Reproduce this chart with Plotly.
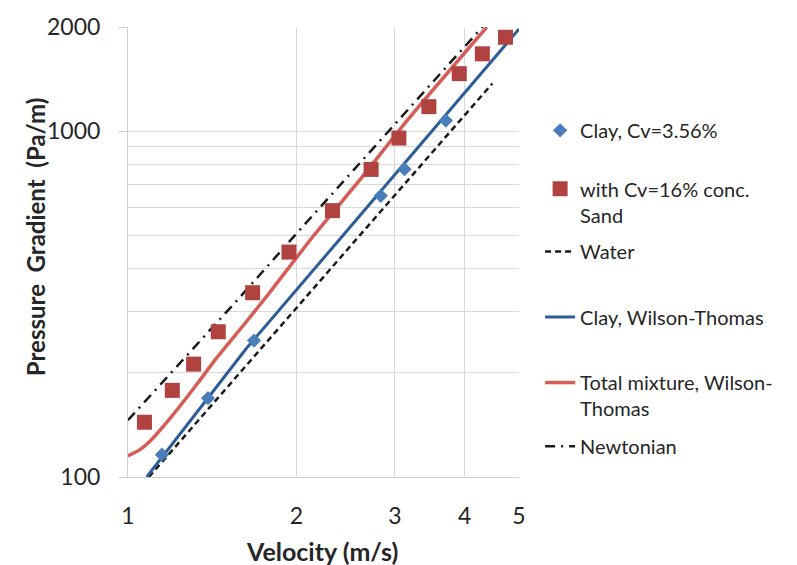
import plotly.graph_objects as go

# Measured data: clay slurry and clay + sand mixture
velocity_clay = [1.15, 1.39, 1.68, 2.83, 3.12, 3.70]
gradient_clay = [116, 169, 248, 650, 776, 1073]

velocity_sand = [1.07, 1.20, 1.31, 1.45, 1.67, 1.94, 2.32, 2.72, 3.05, 3.45, 3.91, 4.30, 4.73]
gradient_sand = [144, 178, 212, 263, 341, 447, 589, 775, 955, 1177, 1466, 1673, 1868]

# Model curves
velocity_water = [1.09, 1.46, 1.73, 2.63, 3.72, 4.48]
gradient_water = [100, 172, 236, 510, 976, 1373]

velocity_clay_wt = [1.08, 1.23, 1.40, 1.63, 2.45, 3.41, 5.00]
gradient_clay_wt = [100, 131, 172, 236, 510, 955, 1973]

velocity_total_wt = [1.00, 1.05, 1.10, 1.19, 1.33, 1.44, 1.63, 1.79, 2.15, 2.59, 3.18, 4.38]
gradient_total_wt = [115, 120, 128, 148, 186, 221, 282, 341, 500, 719, 1090, 2000]

velocity_newtonian = [1.00, 1.58, 2.01, 3.00, 4.30]
gradient_newtonian = [146, 329, 510, 1047, 2000]

x_ticks = [1, 2, 3, 4, 5]
y_ticks = [100, 1000, 2000]
y_minor = [200, 300, 400, 500, 600, 700, 800, 900]

FONT = "Lato, 'Open Sans', sans-serif"
TEXT = "#262626"

fig = go.Figure()

fig.add_trace(go.Scatter(
    x=velocity_water, y=gradient_water, mode="lines", name="Water",
    line=dict(color="#1a1a1a", width=2.5, dash="6px,4px"), legend="legend3"))
fig.add_trace(go.Scatter(
    x=velocity_clay_wt, y=gradient_clay_wt, mode="lines", name="Clay, Wilson-Thomas",
    line=dict(color="#2c5d98", width=3), legend="legend4"))
fig.add_trace(go.Scatter(
    x=velocity_total_wt, y=gradient_total_wt, mode="lines",
    name="Total mixture, Wilson-<br>Thomas",
    line=dict(color="#d65c57", width=3.5, shape="spline", smoothing=0.6), legend="legend5"))
fig.add_trace(go.Scatter(
    x=velocity_newtonian, y=gradient_newtonian, mode="lines", name="Newtonian",
    line=dict(color="#1a1a1a", width=2.5, dash="10px,6px,2px,6px"), legend="legend6"))
fig.add_trace(go.Scatter(
    x=velocity_clay, y=gradient_clay, mode="markers", name="Clay, Cv=3.56%",
    marker=dict(symbol="diamond", size=11, color="#4a7ebb"), legend="legend"))
fig.add_trace(go.Scatter(
    x=velocity_sand, y=gradient_sand, mode="markers", name="with Cv=16% conc.<br>Sand",
    marker=dict(symbol="square", size=15, color="#b0423f"), legend="legend2"))

legend_x = 1.054
legend_common = dict(
    x=legend_x, xanchor="left", yanchor="middle", valign="top",
    font=dict(family=FONT, size=20, color=TEXT), bgcolor="rgba(0,0,0,0)",
    borderwidth=0, itemwidth=30,
)

fig.update_layout(
    width=797, height=565,
    margin=dict(l=128, r=278, t=24, b=88),
    paper_bgcolor="white", plot_bgcolor="white",
    font=dict(family=FONT, color=TEXT),
    showlegend=True,
    legend=dict(y=0.7704, **legend_common),
    legend2=dict(y=0.6115, **legend_common),
    legend3=dict(y=0.5011, **legend_common),
    legend4=dict(y=0.3554, **legend_common),
    legend5=dict(y=0.181, **legend_common),
    legend6=dict(y=0.0684, **legend_common),
    xaxis=dict(
        type="log", range=[0, 0.69897], tickvals=x_ticks, ticktext=[str(v) for v in x_ticks],
        showgrid=True, gridcolor="#d9d9d9", gridwidth=1,
        showline=True, linecolor="#cfcfcf", linewidth=1,
        ticks="", ticklabelstandoff=18, zeroline=False,
        tickfont=dict(family=FONT, size=23, color=TEXT),
    ),
    yaxis=dict(
        type="log", range=[2, 3.30103], tickvals=y_ticks, ticktext=[str(v) for v in y_ticks],
        showgrid=True, gridcolor="#d9d9d9", gridwidth=1,
        showline=True, linecolor="#cfcfcf", linewidth=1,
        ticks="outside", ticklen=8, tickcolor="#cfcfcf", ticklabelstandoff=14,
        minor=dict(tickvals=y_minor, showgrid=True, gridcolor="#d9d9d9", ticks=""),
        zeroline=False,
        tickfont=dict(family=FONT, size=23, color=TEXT),
    ),
    annotations=[
        dict(text="<b>Velocity (m/s)</b>", xref="paper", yref="paper",
             x=0.497, y=-0.165, xanchor="center", yanchor="middle", showarrow=False,
             font=dict(family=FONT, size=25, color=TEXT)),
        dict(text="<b>Pressure\u00a0 Gradient\u00a0 (Pa/m)</b>", xref="paper", yref="paper",
             x=-0.238, y=0.535, xanchor="center", yanchor="middle", showarrow=False,
             textangle=-90, font=dict(family=FONT, size=24, color=TEXT)),
    ],
)

fig.write_html("out.html")
